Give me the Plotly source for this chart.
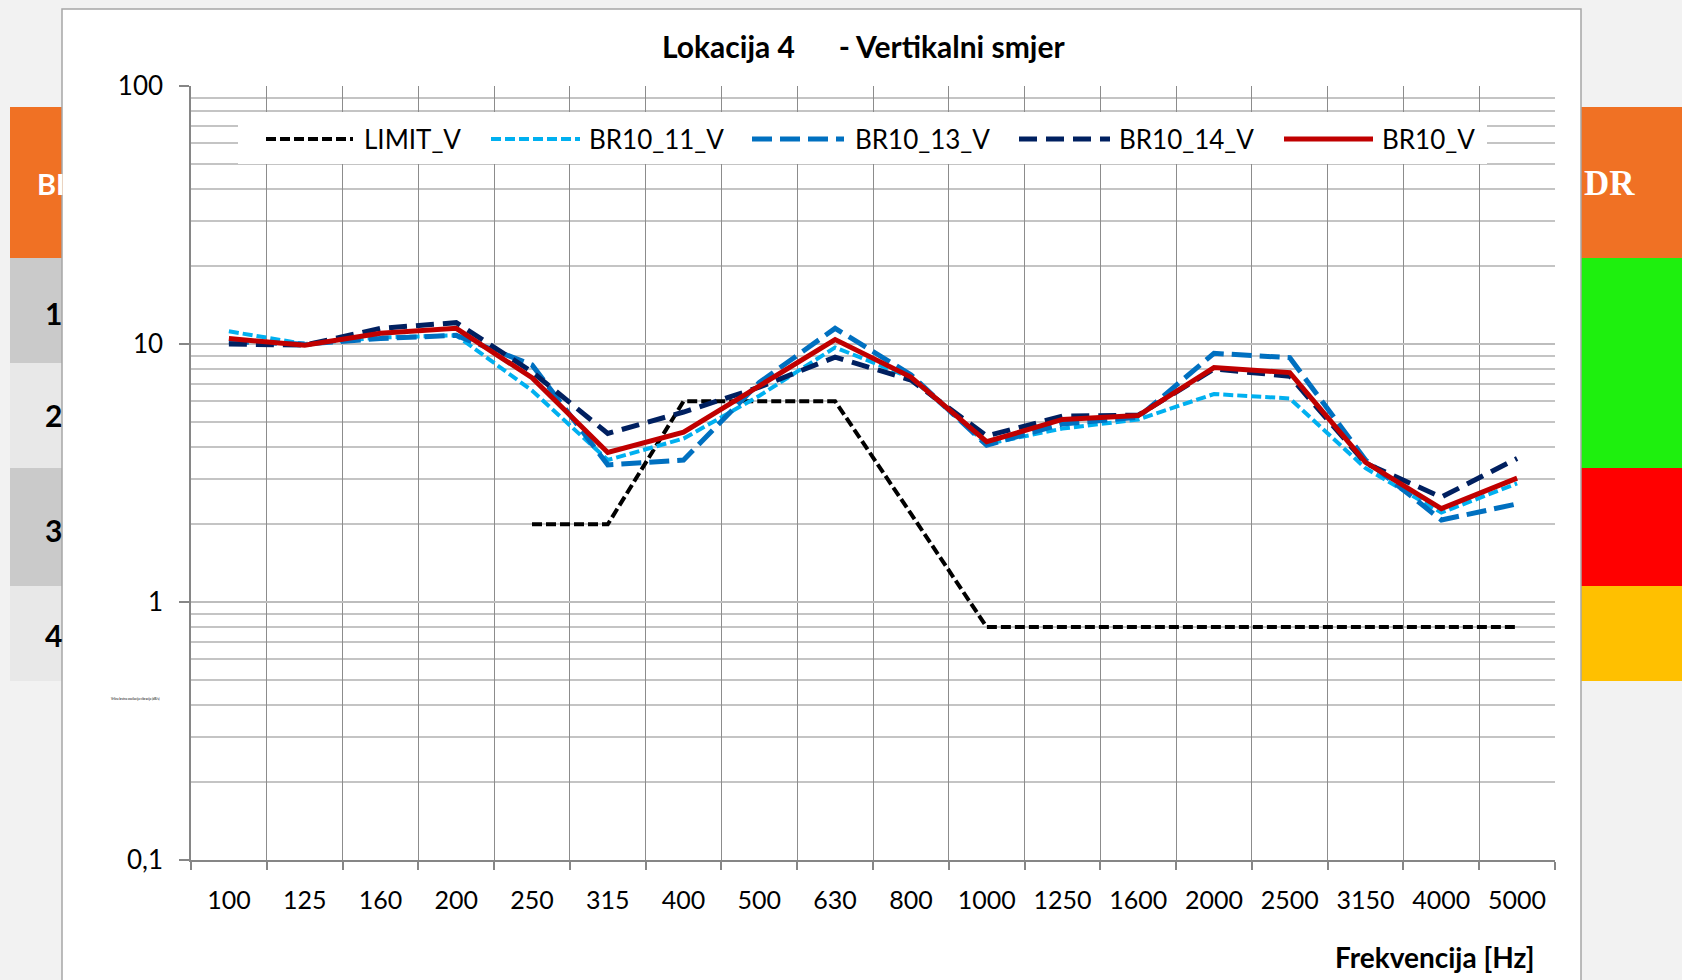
import plotly.graph_objects as go

# ---------------- data ----------------
freq_labels = ["100", "125", "160", "200", "250", "315", "400", "500", "630", "800",
               "1000", "1250", "1600", "2000", "2500", "3150", "4000", "5000"]

limit_v = [None, None, None, None, 2.0, 2.0, 6.0, 6.0, 6.0, 2.2,
           0.8, 0.8, 0.8, 0.8, 0.8, 0.8, 0.8, 0.8]
br10_11_v = [11.2, 10.0, 10.6, 10.8, 6.6, 3.55, 4.3, 6.3, 9.7, 7.4,
             4.1, 4.7, 5.1, 6.4, 6.15, 3.3, 2.22, 2.88]
br10_13_v = [10.2, 10.0, 10.5, 10.8, 8.3, 3.4, 3.55, 7.1, 11.5, 7.6,
             4.05, 4.9, 5.2, 9.2, 8.85, 3.55, 2.08, 2.4]
br10_14_v = [10.0, 9.9, 11.5, 12.1, 7.8, 4.5, 5.45, 6.8, 8.9, 7.25,
             4.4, 5.25, 5.3, 8.0, 7.5, 3.45, 2.55, 3.6]
br10_v = [10.5, 9.9, 11.0, 11.5, 7.4, 3.8, 4.55, 6.9, 10.4, 7.45,
          4.18, 5.1, 5.28, 8.1, 7.75, 3.48, 2.3, 3.02]

series_names = ["LIMIT_V", "BR10_11_V", "BR10_13_V", "BR10_14_V", "BR10_V"]
series_values = [limit_v, br10_11_v, br10_13_v, br10_14_v, br10_v]
series_colors = ["#000000", "#00B0F0", "#0070C0", "#002060", "#C00000"]
series_dash = ["10px,4px", "10px,4px", "20px,8px", "18px,9px", "solid"]
series_width = [4, 4, 5, 5, 5]

y_tick_vals = [0.1, 1, 10, 100]
y_tick_text = ["0,1", "1", "10", "100"]

title_text = "Lokacija 4" + "\u00a0" * 6 + "- Vertikalni smjer"
x_title = "Frekvencija [Hz]"
y_title_tiny = "Vršna brzina oscilacija vibracija (dB/s)"
row_numbers = ["1", "2", "3", "4"]

# ---------------- layout geometry (pixels) ----------------
W, H = 1682, 980
PL, PR, PT, PB = 191, 1555, 86, 860
FONT = "Lato"


def px(x):
    return (x - PL) / (PR - PL)


def py(y):
    return (PB - y) / (PB - PT)


fig = go.Figure()
for name, vals, col, dash, wid in zip(series_names, series_values, series_colors,
                                      series_dash, series_width):
    fig.add_trace(go.Scatter(
        x=freq_labels, y=vals, mode="lines", name=name,
        line=dict(color=col, dash=dash, width=wid),
        connectgaps=False, showlegend=False,
    ))

minor_vals = [k * d for d in (0.1, 1, 10) for k in range(2, 10)]

shapes = []
annotations = []

# slide background pieces (table behind the chart)
left_rows = [(107, 258, "#F07124"), (258, 363, "#CACACA"), (363, 468, "#E8E8E8"),
             (468, 586, "#CACACA"), (586, 681, "#E8E8E8")]
for y0, y1, c in left_rows:
    shapes.append(dict(type="rect", xref="paper", yref="paper", layer="below",
                       x0=px(10), x1=px(200), y0=py(y1), y1=py(y0),
                       fillcolor=c, line=dict(width=0)))
right_rows = [(107, 258, "#F07124"), (258, 468, "#1EF00E"), (468, 586, "#FF0000"),
              (586, 681, "#FFC000")]
for y0, y1, c in right_rows:
    shapes.append(dict(type="rect", xref="paper", yref="paper", layer="below",
                       x0=px(1450), x1=px(1682), y0=py(y1), y1=py(y0),
                       fillcolor=c, line=dict(width=0)))

# chart box
shapes.append(dict(type="rect", xref="paper", yref="paper", layer="below",
                   x0=px(62), x1=px(1581), y0=py(995), y1=py(9),
                   fillcolor="white", line=dict(color="#A6A6A6", width=1.5)))

# legend box + samples
shapes.append(dict(type="rect", xref="paper", yref="paper", layer="above",
                   x0=px(238), x1=px(1487), y0=py(164), y1=py(112),
                   fillcolor="white", line=dict(width=0)))
leg_line_x = [(266, 353), (491, 580), (752, 844), (1019, 1110), (1284, 1373)]
leg_text_x = [362, 587, 853, 1117, 1380]
leg_y = 139
for name, col, dash, wid, (lx0, lx1), tx in zip(series_names, series_colors, series_dash,
                                                 series_width, leg_line_x, leg_text_x):
    shapes.append(dict(type="line", xref="paper", yref="paper", layer="above",
                       x0=px(lx0), x1=px(lx1), y0=py(leg_y), y1=py(leg_y),
                       line=dict(color=col, dash=dash, width=wid)))
    annotations.append(dict(text=name, xref="paper", yref="paper", x=px(tx), y=py(leg_y),
                            xanchor="left", yanchor="middle", showarrow=False,
                            font=dict(family=FONT, size=26, color="black")))

# title
annotations.append(dict(text=f"<b>{title_text}</b>", xref="paper", yref="paper",
                        x=px(863), y=py(46), xanchor="center", yanchor="middle",
                        showarrow=False, font=dict(family=FONT, size=30, color="black")))
# x-axis title
annotations.append(dict(text=f"<b>{x_title}</b>", xref="paper", yref="paper",
                        x=px(1537), y=py(957), xanchor="right", yanchor="middle",
                        showarrow=False, font=dict(family=FONT, size=28, color="black")))
# tiny (collapsed) y-axis title
annotations.append(dict(text=y_title_tiny, xref="paper", yref="paper",
                        x=px(109), y=py(698), xanchor="left", yanchor="middle",
                        showarrow=False, font=dict(family=FONT, size=3, color="black")))

# slide table texts peeking from behind the chart
annotations.append(dict(text="<b>BI</b>", xref="paper", yref="paper", x=px(35), y=py(184),
                        xanchor="left", yanchor="middle", showarrow=False,
                        font=dict(family=FONT, size=29, color="white")))
annotations.append(dict(text="<b>DR</b>", xref="paper", yref="paper", x=px(1582), y=py(184),
                        xanchor="left", yanchor="middle", showarrow=False,
                        font=dict(family="Liberation Serif", size=35, color="white")))
for num, yc in zip(row_numbers, [313, 415, 530, 635]):
    annotations.append(dict(text=f"<b>{num}</b>", xref="paper", yref="paper", x=px(64),
                            y=py(yc), xanchor="right", yanchor="middle", showarrow=False,
                            font=dict(family=FONT, size=30, color="black")))

fig.update_layout(
    width=W, height=H,
    margin=dict(l=PL, r=W - PR, t=PT, b=H - PB, pad=0),
    paper_bgcolor="#F2F2F2",
    plot_bgcolor="white",
    showlegend=False,
    shapes=shapes,
    annotations=annotations,
    font=dict(family=FONT, color="black"),
)

fig.update_xaxes(
    type="category", range=[-0.5, len(freq_labels) - 0.5],
    tickson="boundaries", ticks="outside", ticklen=8, tickwidth=1.5, tickcolor="#868686",
    showgrid=True, gridcolor="#8C8C8C", gridwidth=1.2,
    showline=True, linecolor="#868686", linewidth=1.5,
    tickfont=dict(family=FONT, size=25, color="black"),
    ticklabelstandoff=17,
    automargin=False, zeroline=False,
)
fig.update_yaxes(
    type="log", range=[-1, 2],
    tickmode="array", tickvals=y_tick_vals, ticktext=y_tick_text,
    ticks="outside", ticklen=10, tickwidth=1.5, tickcolor="#868686",
    showgrid=True, gridcolor="#BDBDBD", gridwidth=1.5,
    minor=dict(tickmode="array", tickvals=minor_vals, showgrid=True,
               gridcolor="#C4C4C4", gridwidth=1.5, ticks=""),
    showline=True, linecolor="#868686", linewidth=1.5,
    tickfont=dict(family=FONT, size=26, color="black"),
    ticklabelstandoff=11,
    automargin=False, zeroline=False,
)

fig.write_html("out.html")
